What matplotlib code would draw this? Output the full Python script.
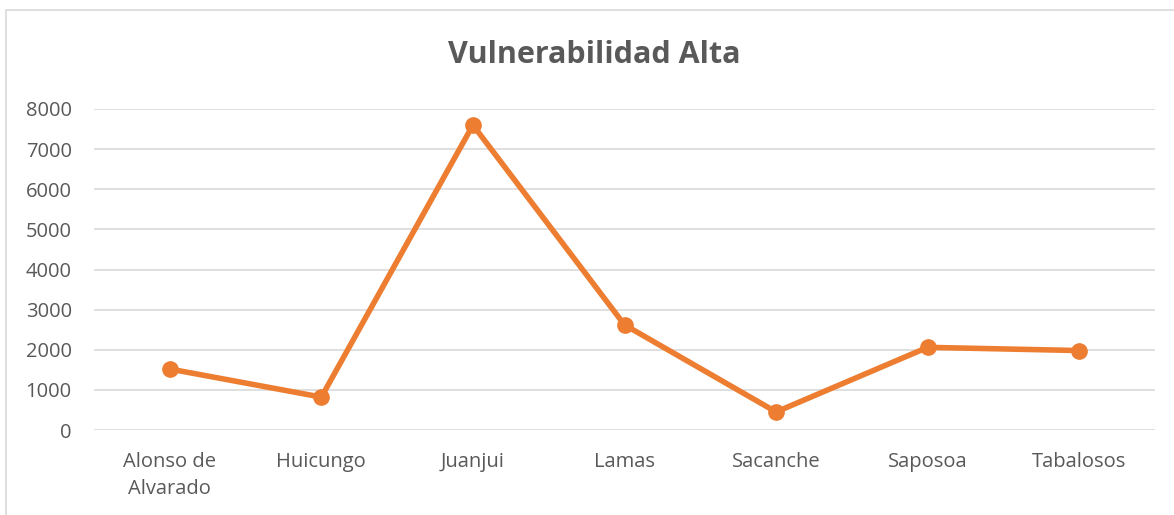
import matplotlib.pyplot as plt
from matplotlib.patches import Rectangle

# data
distritos = ["Alonso de\nAlvarado", "Huicungo", "Juanjui", "Lamas",
             "Sacanche", "Saposoa", "Tabalosos"]
valores = [1520, 820, 7600, 2620, 450, 2060, 1980]
y_ticks = [0, 1000, 2000, 3000, 4000, 5000, 6000, 7000, 8000]

plt.rcParams['font.family'] = ['Open Sans', 'DejaVu Sans']
texto = "#595959"
naranja = "#ED7D31"

fig = plt.figure(figsize=(11.74, 5.15), dpi=100)
ax = fig.add_axes([94/1174, (515-430)/515, (1155-94)/1174, (430-109)/515])

x = range(len(distritos))
ax.plot(x, valores, color=naranja, linewidth=4, marker="o",
        markersize=11, solid_capstyle="round", zorder=3)

ax.set_xlim(-0.5, len(distritos) - 0.5)
ax.set_ylim(0, 8000)
ax.set_yticks(y_ticks)
ax.set_xticks(list(x))
ax.set_xticklabels(distritos, linespacing=1.45)
ax.grid(axis="y", color="#D9D9D9", linewidth=1.2)
ax.set_axisbelow(True)
for s in ax.spines.values():
    s.set_visible(False)
ax.tick_params(length=0, labelsize=14.5, colors=texto)
ax.tick_params(axis="y", pad=16)
ax.tick_params(axis="x", pad=16)

fig.text(594/1174, 1 - 55/515, "Vulnerabilidad Alta", ha="center", va="center",
         fontsize=22, fontweight="bold", color=texto)

# chart border (left and top edges visible)
fig.patches.append(Rectangle((6/1174, -0.1), 1.2, (515-10)/515 + 0.1,
                             transform=fig.transFigure, fill=False,
                             edgecolor="#D9D9D9", linewidth=1.2))

fig.savefig("out.png", dpi=100)
